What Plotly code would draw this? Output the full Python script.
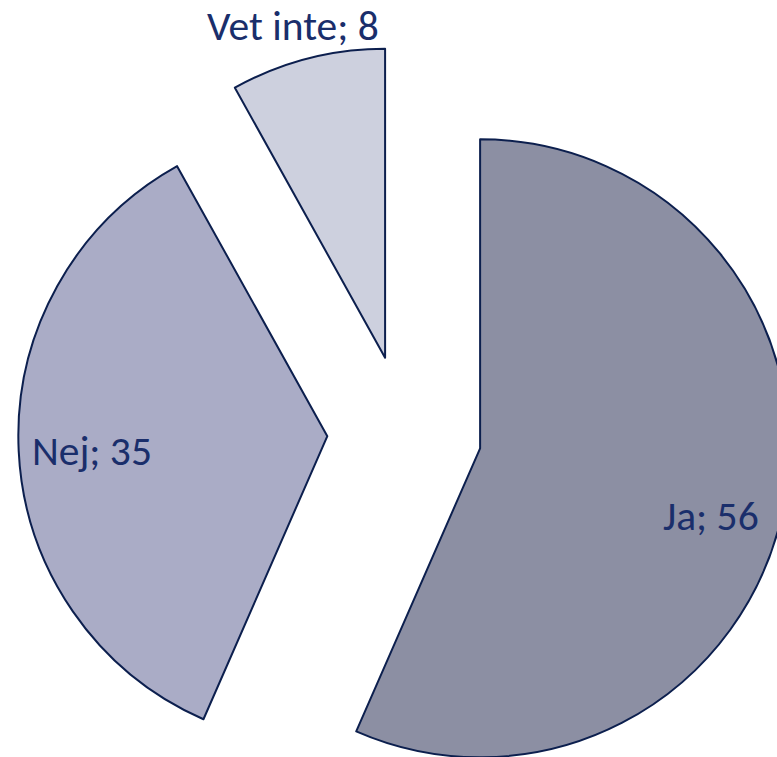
import math
import plotly.graph_objects as go

# ---- data ----
labels = ["Ja", "Nej", "Vet inte"]
values = [56, 35, 8]
colors = ["#8C8FA3", "#AAACC6", "#CDD0DE"]

# ---- geometry / style ----
W, H = 792, 820          # figure larger than the window; the page crops it like the original
R = 309                  # pie radius in px
PULL = 0.25
CX, CY = 404.5, 432.5    # un-pulled pie centre in px
BOX = 2 * R * (1 + PULL)
LINE = "#0C1F4E"
TEXT = "#1A2E6B"
FONT = "Carlito, Calibri, Lato, sans-serif"
label_frac = [0.778, 0.764, 1.115]   # label distance from slice tip, in radii
label_dang = [4.3, -0.8, -1.0]       # small angular nudges (deg)

dom_x = [(CX - BOX / 2) / W, (CX + BOX / 2) / W]
dom_y = [1 - (CY + BOX / 2) / H, 1 - (CY - BOX / 2) / H]

fig = go.Figure(go.Pie(
    labels=labels, values=values, sort=False, direction="clockwise", rotation=0,
    pull=[PULL] * len(values),
    marker=dict(colors=colors, line=dict(color=LINE, width=2)),
    textinfo="none", hoverinfo="label+value",
    domain=dict(x=dom_x, y=dom_y), showlegend=False,
))

total = sum(values)
cum = 0
ann = []
for lab, v, f, da in zip(labels, values, label_frac, label_dang):
    mid = (cum + v / 2) / total * 360
    cum += v
    a = math.radians(mid)
    tipx = CX + PULL * R * math.sin(a)
    tipy = CY - PULL * R * math.cos(a)
    b = math.radians(mid + da)
    px = tipx + f * R * math.sin(b)
    py = tipy - f * R * math.cos(b)
    ann.append(dict(x=px / W, y=1 - py / H, xref="paper", yref="paper",
                    text=f"{lab}; {v}", showarrow=False,
                    xanchor="center", yanchor="middle",
                    font=dict(family=FONT, size=41.5, color=TEXT)))

fig.update_layout(
    width=W, height=H, autosize=False,
    margin=dict(l=0, r=0, t=0, b=0),
    paper_bgcolor="white", plot_bgcolor="white",
    annotations=ann,
)

fig.write_html(
    "out.html",
    config={"displayModeBar": False},
    post_script="document.body.style.margin='0';document.body.style.overflow='hidden';"
                "document.documentElement.style.overflow='hidden';",
)
